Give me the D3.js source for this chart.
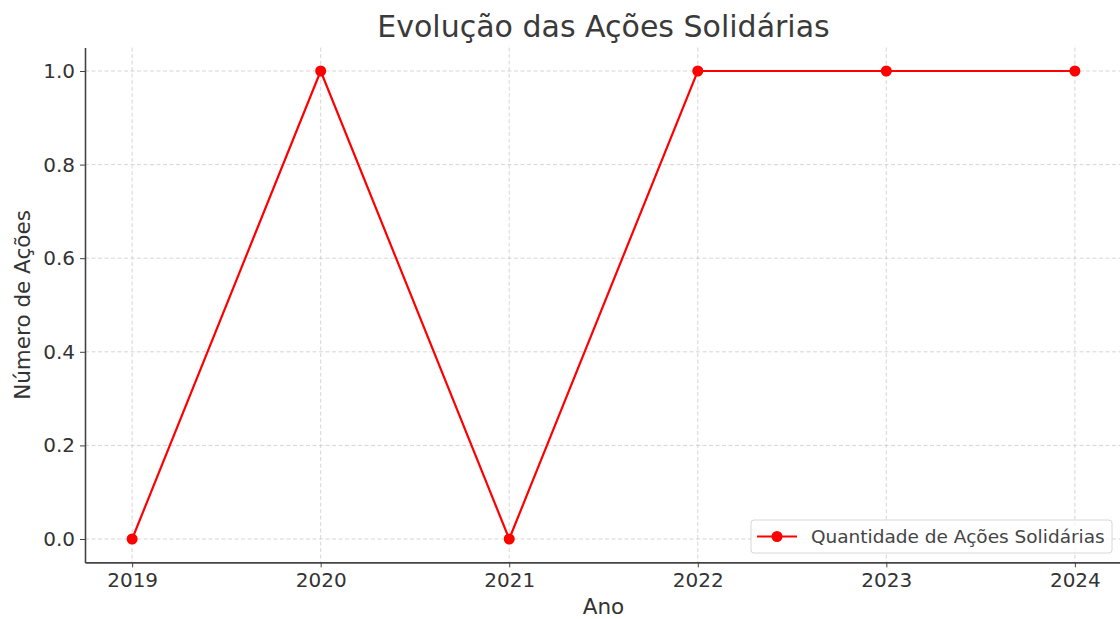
<!DOCTYPE html>
<html>
<head>
<meta charset="utf-8">
<script src="https://cdn.jsdelivr.net/npm/d3@7"></script>
<style>
  body { margin: 0; background: #fff; }
  svg { font-family: "DejaVu Sans", sans-serif; }
</style>
</head>
<body>
<script>
// data
var years = [2019, 2020, 2021, 2022, 2023, 2024];
var acoes = [0, 1, 0, 1, 1, 1];
var yTicks = [0.0, 0.2, 0.4, 0.6, 0.8, 1.0];
var seriesName = "Quantidade de Ações Solidárias";

var width = 1120, height = 619;
var margin = { top: 47.6, right: -2, bottom: 56.6, left: 85 };
var textColor = "#333";

var svg = d3.select("body").append("svg")
    .attr("width", width)
    .attr("height", height);

// matplotlib style 5% padding on both axes
var x = d3.scaleLinear()
    .domain([2019 - 0.25, 2024 + 0.25])
    .range([margin.left, width - margin.right]);
var y = d3.scaleLinear()
    .domain([-0.05, 1.05])
    .range([height - margin.bottom, margin.top]);

var x0 = margin.left, x1 = width - margin.right;
var y0 = height - margin.bottom, y1 = margin.top;

// grid
var grid = svg.append("g")
    .attr("stroke", "#cccccc")
    .attr("stroke-width", 0.8)
    .attr("stroke-dasharray", "4,2.5");
grid.selectAll(".xg").data(years).join("line")
    .attr("class", "xg")
    .attr("x1", d => x(d)).attr("x2", d => x(d))
    .attr("y1", y1).attr("y2", y0);
grid.selectAll(".yg").data(yTicks).join("line")
    .attr("class", "yg")
    .attr("y1", d => y(d)).attr("y2", d => y(d))
    .attr("x1", x0).attr("x2", x1);

// axes
var xAxis = svg.append("g")
    .attr("transform", `translate(0,${y0})`)
    .call(d3.axisBottom(x).tickValues(years).tickFormat(d3.format("d"))
        .tickSize(5).tickSizeOuter(0).tickPadding(4));
var yAxis = svg.append("g")
    .attr("transform", `translate(${x0},0)`)
    .call(d3.axisLeft(y).tickValues(yTicks).tickFormat(d3.format(".1f"))
        .tickSize(5).tickSizeOuter(0).tickPadding(5));

[xAxis, yAxis].forEach(g => {
    g.select(".domain").attr("stroke", "#444").attr("stroke-width", 1.6);
    g.selectAll(".tick line").attr("stroke", "#444").attr("stroke-width", 1);
    g.selectAll(".tick text")
        .attr("fill", textColor)
        .attr("font-size", 20)
        .attr("font-family", "DejaVu Sans, sans-serif");
});
xAxis.selectAll(".tick text").attr("dy", "0.8em");

// line
var line = d3.line()
    .x((d, i) => x(years[i]))
    .y(d => y(d));

svg.append("path")
    .datum(acoes)
    .attr("fill", "none")
    .attr("stroke", "red")
    .attr("stroke-width", 2.2)
    .attr("stroke-linejoin", "miter")
    .attr("d", line);

svg.selectAll(".pt").data(acoes).join("circle")
    .attr("class", "pt")
    .attr("cx", (d, i) => x(years[i]))
    .attr("cy", d => y(d))
    .attr("r", 5.5)
    .attr("fill", "red");

// title and labels
svg.append("text")
    .attr("x", (x0 + x1) / 2)
    .attr("y", 37)
    .attr("text-anchor", "middle")
    .attr("font-size", 30)
    .attr("fill", "#3a3a3a")
    .text("Evolução das Ações Solidárias");

svg.append("text")
    .attr("x", (x0 + x1) / 2)
    .attr("y", 614)
    .attr("text-anchor", "middle")
    .attr("font-size", 21.5)
    .attr("fill", textColor)
    .text("Ano");

svg.append("text")
    .attr("transform", `translate(30,${(y0 + y1) / 2}) rotate(-90)`)
    .attr("text-anchor", "middle")
    .attr("font-size", 21.5)
    .attr("fill", textColor)
    .text("Número de Ações");

// legend
var leg = svg.append("g").attr("transform", "translate(751,520)");
leg.append("rect")
    .attr("width", 361).attr("height", 33)
    .attr("rx", 3)
    .attr("fill", "white")
    .attr("fill-opacity", 0.8)
    .attr("stroke", "#d8d8d8");
leg.append("line")
    .attr("x1", 6).attr("x2", 46)
    .attr("y1", 16.5).attr("y2", 16.5)
    .attr("stroke", "red").attr("stroke-width", 2.2);
leg.append("circle")
    .attr("cx", 26).attr("cy", 16.5).attr("r", 5.5).attr("fill", "red");
leg.append("text")
    .attr("x", 60).attr("y", 23)
    .attr("font-size", 18.5)
    .attr("fill", "#444")
    .text(seriesName);
</script>
</body>
</html>
